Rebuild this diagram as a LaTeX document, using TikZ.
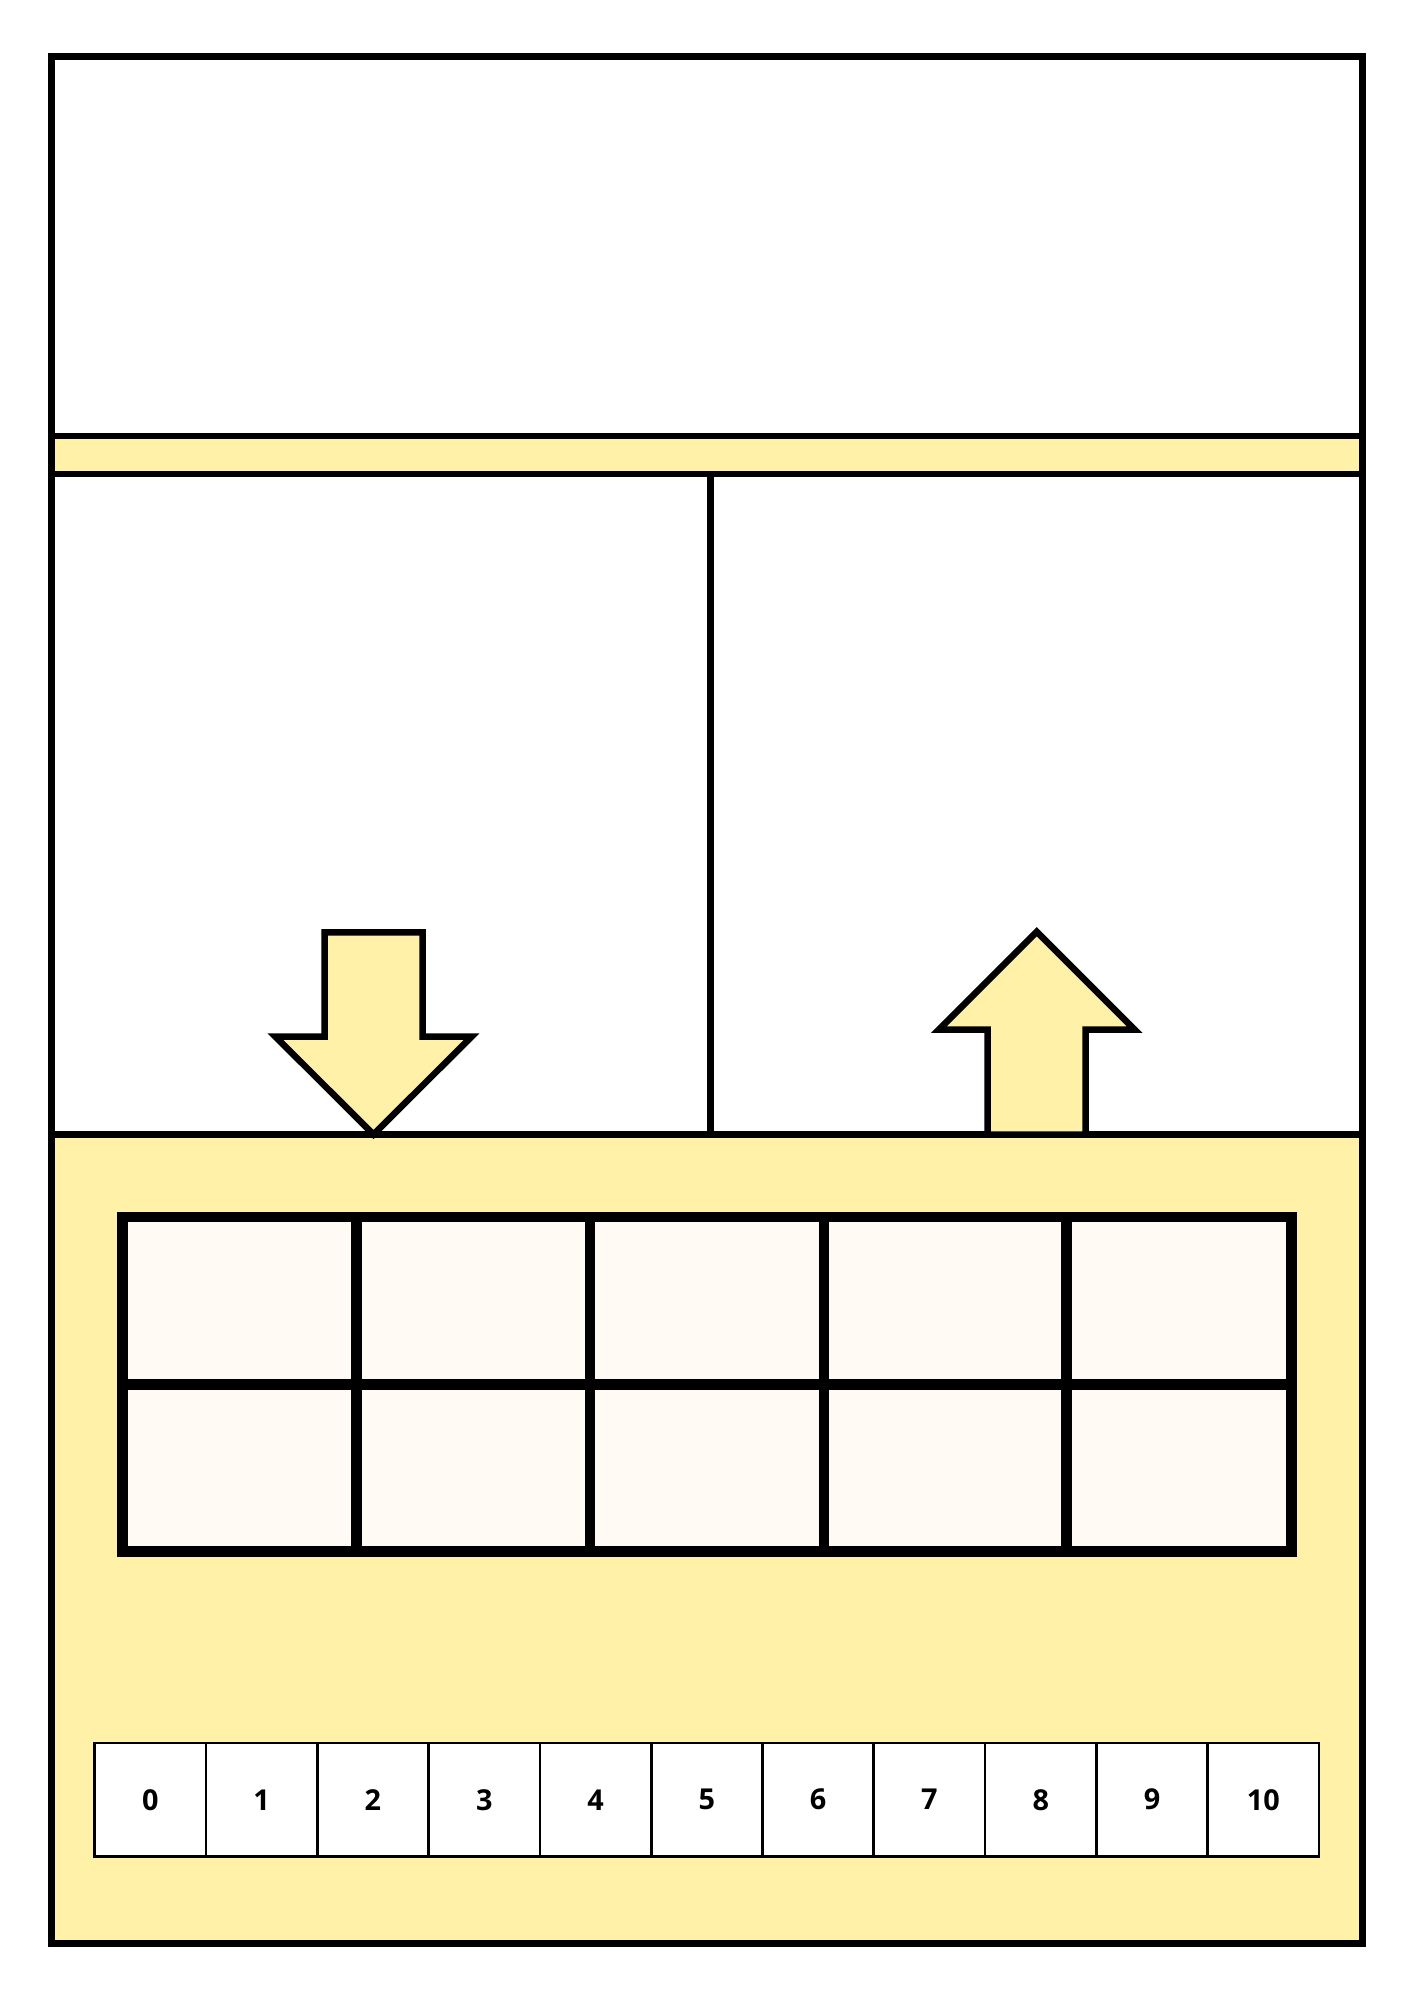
\documentclass[tikz,border=0pt]{standalone}
\usepackage{fontspec}
\newfontfamily\numfont{Open Sans}
\definecolor{padyellow}{HTML}{FFF1A8}
\definecolor{cellwhite}{HTML}{FFFAF3}
\begin{document}
\begin{tikzpicture}[x=0.02cm,y=-0.02cm,
  frameline/.style={line width=3.9pt},
  bigarrow/.style={line width=3.7pt,fill=padyellow},
  gridcell/.style={line width=6pt,fill=cellwhite},
  numcell/.style={draw,line width=1.5pt,fill=white,inner sep=0pt,
    minimum width=2.226cm,minimum height=2.27cm,
    font=\numfont\bfseries\fontsize{16.4}{20}\selectfont}]
\useasboundingbox (0,0) rectangle (1414,2000);
\fill[padyellow] (51.5,436) rectangle (1362.6,474);
\fill[padyellow] (51.5,1134.5) rectangle (1362.6,1943);
\draw[frameline] (51.5,436) -- (1362.6,436);
\draw[frameline] (51.5,474) -- (1362.6,474);
\draw[frameline] (51.5,1134.5) -- (1362.6,1134.5);
\draw[frameline] (710.7,474) -- (710.7,1134.5);
\draw[line width=4pt] (51.5,56.8) rectangle (1362.6,1943);
% down and up arrows
\draw[bigarrow] (324.5,932.3) -- (422.5,932.3) -- (422.5,1036.7) -- (471.5,1036.7)
  -- (373.5,1134.5) -- (275.5,1036.7) -- (324.5,1036.7) -- cycle;
\draw[bigarrow] (987.7,1134.5) -- (987.7,1029.7) -- (938.7,1029.7) -- (1036.7,931.7)
  -- (1134.7,1029.7) -- (1085.7,1029.7) -- (1085.7,1134.5) -- cycle;
% ten frame
\foreach \xa/\xb in {122.3/356.3,356.3/590,590/824,824/1066.5,1066.5/1291.7}
\foreach \ya/\yb in {1217/1384.3,1384.3/1551.7}
\draw[gridcell] (\xa,\ya) rectangle (\xb,\yb);
% number strip
\foreach \i in {0,...,10}
\node[numcell] (n\i) at ({94.7+111.3*(\i+0.5)},1799.7) {\i};
\end{tikzpicture}
\end{document}
